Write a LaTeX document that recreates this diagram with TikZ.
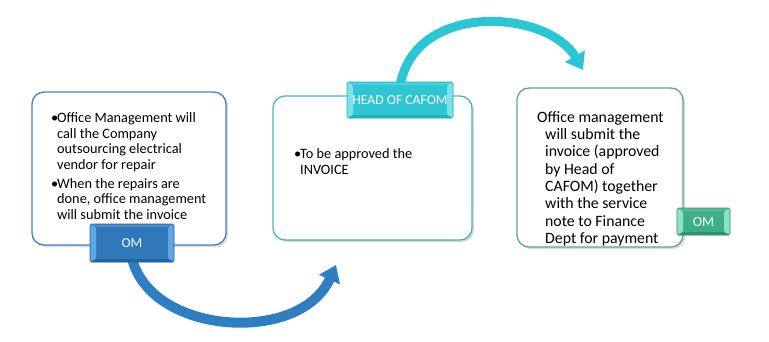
\documentclass[tikz,border=0pt]{standalone}
\usepackage{fontspec}
\setmainfont{Carlito}
\usetikzlibrary{arrows.meta,shadows,calc}

\definecolor{omblue}{HTML}{2E78BA}
\definecolor{omblueL}{HTML}{5FA6E2}
\definecolor{omblueD}{HTML}{22629E}
\definecolor{cardblue}{HTML}{4682C0}
\definecolor{cafom}{HTML}{2EC6D3}
\definecolor{cafomL}{HTML}{7FE2EA}
\definecolor{cafomD}{HTML}{22AEBA}
\definecolor{cardteal}{HTML}{4DB3BE}
\definecolor{omgreen}{HTML}{3DAE88}
\definecolor{omgreenL}{HTML}{8EE2C4}
\definecolor{omgreenD}{HTML}{2E9172}
\definecolor{cardgreen}{HTML}{5CA88E}
\definecolor{arrblue}{HTML}{2F7EC2}
\definecolor{arrcyan}{HTML}{2BC6D4}

\newcommand{\bul}{\makebox[6pt][l]{•}}

\tikzset{
  card/.style={draw=#1, line width=1.3pt, rounded corners=12pt, fill=white,
    drop shadow={shadow xshift=2pt, shadow yshift=-2pt, fill=black, opacity=0.15}},
  tag/.style n args={3}{fill=#1, draw=#3, line width=0.6pt, rounded corners=1.5pt,
    text=white, inner sep=0pt,
    path picture={
      \fill[#2] (path picture bounding box.south west) -- (path picture bounding box.north west)
        -- ($(path picture bounding box.north west)+(6pt,-3pt)$)
        -- ($(path picture bounding box.south west)+(6pt,3pt)$) -- cycle;
      \fill[#2] (path picture bounding box.south east) -- (path picture bounding box.north east)
        -- ($(path picture bounding box.north east)+(-6pt,-3pt)$)
        -- ($(path picture bounding box.south east)+(-6pt,3pt)$) -- cycle;
      \fill[#1!85!white] (path picture bounding box.north west) -- (path picture bounding box.north east)
        -- ($(path picture bounding box.north east)+(-6pt,-3pt)$)
        -- ($(path picture bounding box.north west)+(6pt,-3pt)$) -- cycle;
      \fill[#3] (path picture bounding box.south west) -- (path picture bounding box.south east)
        -- ($(path picture bounding box.south east)+(-6pt,3pt)$)
        -- ($(path picture bounding box.south west)+(6pt,3pt)$) -- cycle;
    }},
  flow/.style={line width=#1, -{Triangle[width=22pt,length=16pt]}},
  body/.style={inner sep=0pt, anchor=north west, align=left}
}

\begin{document}
\begin{tikzpicture}[x=1pt,y=-1pt]
\useasboundingbox (0,0) rectangle (769,341);

% cards
\node[card=cardblue,  minimum width=194pt, minimum height=153pt] (card1) at (129,168.5) {};
\node[card=cardteal,  minimum width=199pt, minimum height=144pt] (card2) at (372.5,168) {};
\node[card=cardgreen, minimum width=166pt, minimum height=159pt] (card3) at (600,167.5) {};

% card texts
\node[body, font=\fontsize{14.3}{15.4}\selectfont] (txt1) at (51,112)
  {\begin{tabular}{@{}l@{}}
   \bul Office Management will\\
   \hspace{6pt}call the Company\\
   \hspace{6pt}outsourcing electrical\\
   \hspace{6pt}vendor for repair\\[4pt]
   \bul When the repairs are\\
   \hspace{6pt}done, office management\\
   \hspace{6pt}will submit the invoice
   \end{tabular}};
\node[body, font=\fontsize{14.3}{15.4}\selectfont] (txt2) at (294,148)
  {\begin{tabular}{@{}l@{}}
   \bul To be approved the\\
   \hspace{6pt}INVOICE
   \end{tabular}};
\node[body, font=\fontsize{15.8}{17.3}\selectfont] (txt3) at (537,110)
  {\begin{tabular}{@{}l@{}}
   Office management\\
   \hspace{8pt}will submit the\\
   \hspace{8pt}invoice (approved\\
   \hspace{8pt}by Head of\\
   \hspace{8pt}CAFOM) together\\
   \hspace{8pt}with the service\\
   \hspace{8pt}note to Finance\\
   \hspace{8pt}Dept for payment
   \end{tabular}};

% free ends of the curved arrows
\coordinate (tip1) at (336,265);
\coordinate (tip2) at (583,70);
\coordinate (start1) at (132,258);
\coordinate (start2) at (400,86);

% curved arrows
\draw[arrblue, flow=10pt] (start1) .. controls (150,335) and (300,345) .. (tip1);
\draw[arrcyan, flow=9pt] (start2) .. controls (415,0) and (548,10) .. (tip2);

% tags
\node[tag={omblue}{omblueL}{omblueD}, minimum width=84pt, minimum height=38pt,
      font=\fontsize{13.7}{14}\selectfont] (om1) at (132,243) {OM};
\node[tag={cafom}{cafomL}{cafomD}, minimum width=106pt, minimum height=36pt,
      font=\fontsize{13.7}{14}\selectfont] (head) at (400,100) {HEAD OF CAFOM};
\node[tag={omgreen}{omgreenL}{omgreenD}, minimum width=53pt, minimum height=27pt,
      font=\fontsize{14}{14}\selectfont] (om3) at (703.5,221.5) {OM};
\end{tikzpicture}
\end{document}
